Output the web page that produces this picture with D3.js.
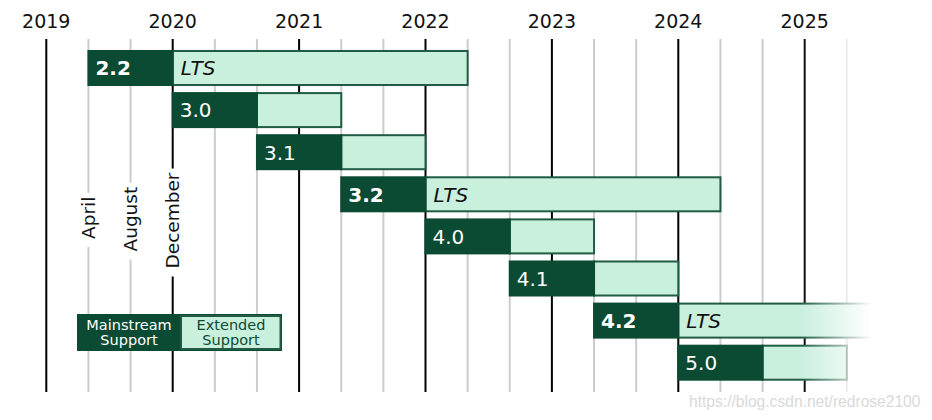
<!DOCTYPE html>
<html>
<head>
<meta charset="utf-8">
<script src="https://cdn.jsdelivr.net/npm/d3@7"></script>
<style>
  html, body { margin: 0; padding: 0; background: #fff; }
  svg { display: block; font-family: "DejaVu Sans", sans-serif; }
</style>
</head>
<body>
<svg id="chart" width="932" height="420"></svg>
<script>
// ---- data ----
const releases       = ["2.2", "3.0", "3.1", "3.2", "4.0", "4.1", "4.2", "5.0"];
const releaseDate    = ["2019-04", "2019-12", "2020-08", "2021-04", "2021-12", "2022-08", "2023-04", "2023-12"];
const mainstreamEnd  = ["2019-12", "2020-08", "2021-04", "2021-12", "2022-08", "2023-04", "2023-12", "2024-08"];
const extendedEnd    = ["2022-04", "2021-04", "2021-12", "2024-04", "2023-04", "2023-12", "2026-04", "2025-04"];
const isLTS          = [true, false, false, true, false, false, true, false];
const yearTicks      = [2019, 2020, 2021, 2022, 2023, 2024, 2025];
const monthLabels    = ["April", "August", "December"];
const legendLabels   = [["Mainstream", "Support"], ["Extended", "Support"]];
const watermark      = "https://blog.csdn.net/redrose2100";

// ---- styles ----
const C_MAIN = "#0c4b33", C_EXT = "#c9efdd", C_STROKE = "#1f5c43";

const toYear = s => { const [y, m] = s.split("-").map(Number); return y + m / 12; };

const svg = d3.select("#chart");
const x = d3.scaleLinear().domain([2019, 2025]).range([46.3, 804.7]);
const y = d3.scaleBand().domain(releases).range([46.95, 383.75]).paddingInner(0.192).paddingOuter(0.096);
const lineTop = 39, lineBottom = 392;

// gridlines every 4 months
const grid = [];
for (let yr = 2019; yr <= 2025; yr++) { grid.push(yr + 1/3, yr + 2/3); }
svg.append("g").selectAll("line").data(grid).join("line")
  .attr("x1", d => x(d)).attr("x2", d => x(d))
  .attr("y1", lineTop).attr("y2", lineBottom)
  .attr("stroke", "#cccccc").attr("stroke-width", 2);

svg.append("g").selectAll("line").data(yearTicks).join("line")
  .attr("x1", d => x(d)).attr("x2", d => x(d))
  .attr("y1", lineTop).attr("y2", lineBottom)
  .attr("stroke", "#000").attr("stroke-width", 2);

// year labels
svg.append("g").selectAll("text").data(yearTicks).join("text")
  .attr("x", d => x(d)).attr("y", 28)
  .attr("text-anchor", "middle").attr("font-size", 19).attr("fill", "#111")
  .text(d => d);

// month labels (rotated) with gaps in the lines
const monthPos = [2019 + 4/12, 2019 + 8/12, 2019 + 12/12];
const monthBase = [239, 251.5, 268.5];
const mg = svg.append("g");
monthLabels.forEach((m, i) => {
  const t = mg.append("text")
    .attr("transform", `translate(${x(monthPos[i])},${monthBase[i]}) rotate(-90)`)
    .attr("dy", "0.33em").attr("font-size", 18.5).attr("fill", "#111")
    .text(m);
  const len = t.node().getComputedTextLength();
  mg.insert("rect", "text")
    .attr("x", x(monthPos[i]) - 4).attr("width", 8)
    .attr("y", monthBase[i] - len - 4).attr("height", len + 12)
    .attr("fill", "#fff");
});

// bars
const bars = svg.append("g").selectAll("g").data(releases).join("g");
bars.append("rect")
  .attr("x", (d, i) => x(toYear(mainstreamEnd[i])))
  .attr("y", d => y(d))
  .attr("width", (d, i) => x(toYear(extendedEnd[i])) - x(toYear(mainstreamEnd[i])))
  .attr("height", y.bandwidth())
  .attr("fill", C_EXT).attr("stroke", C_STROKE).attr("stroke-width", 2);
bars.append("rect")
  .attr("x", (d, i) => x(toYear(releaseDate[i])))
  .attr("y", d => y(d))
  .attr("width", (d, i) => x(toYear(mainstreamEnd[i])) - x(toYear(releaseDate[i])))
  .attr("height", y.bandwidth())
  .attr("fill", C_MAIN).attr("stroke", C_MAIN).attr("stroke-width", 2);
bars.append("text")
  .attr("x", (d, i) => x(toYear(releaseDate[i])) + 7)
  .attr("y", d => y(d) + y.bandwidth() / 2 + 7.3)
  .attr("font-size", 20).attr("fill", "#fff")
  .attr("font-weight", (d, i) => isLTS[i] ? "bold" : "normal")
  .text(d => d);
bars.filter((d, i) => isLTS[i]).append("text")
  .attr("x", d => x(toYear(mainstreamEnd[releases.indexOf(d)])) + 8)
  .attr("y", d => y(d) + y.bandwidth() / 2 + 7.3)
  .attr("font-size", 20).attr("font-style", "italic").attr("fill", "#111")
  .text("LTS");

// fade-out to the right
const defs = svg.append("defs");
const grad = defs.append("linearGradient").attr("id", "fade")
  .attr("gradientUnits", "userSpaceOnUse").attr("x1", 800).attr("x2", 872).attr("y1", 0).attr("y2", 0);
grad.append("stop").attr("offset", 0).attr("stop-color", "#fff").attr("stop-opacity", 0);
grad.append("stop").attr("offset", 1).attr("stop-color", "#fff").attr("stop-opacity", 1);
svg.append("rect").attr("x", 800).attr("y", lineTop - 2).attr("width", 132).attr("height", lineBottom - lineTop + 4)
  .attr("fill", "url(#fade)");

// legend
const lg = svg.append("g");
lg.append("rect").attr("x", 78).attr("y", 315).attr("width", 203).attr("height", 35)
  .attr("fill", C_MAIN).attr("stroke", C_MAIN).attr("stroke-width", 2);
lg.append("rect").attr("x", 181).attr("y", 316).attr("width", 99.5).attr("height", 33)
  .attr("fill", C_EXT).attr("stroke", C_STROKE).attr("stroke-width", 2);
const legCx = [129, 231], legFill = ["#fff", C_MAIN];
legendLabels.forEach((lines, i) => {
  lines.forEach((l, j) => {
    lg.append("text").attr("x", legCx[i]).attr("y", 329.5 + j * 15)
      .attr("text-anchor", "middle").attr("font-size", 14.5).attr("fill", legFill[i])
      .text(l);
  });
});

// watermark
svg.append("text").attr("x", 689).attr("y", 407)
  .attr("font-family", "'Liberation Sans', Arial, sans-serif").attr("font-size", 15.6)
  .attr("fill", "#d9d9d9").text(watermark);
</script>
</body>
</html>
